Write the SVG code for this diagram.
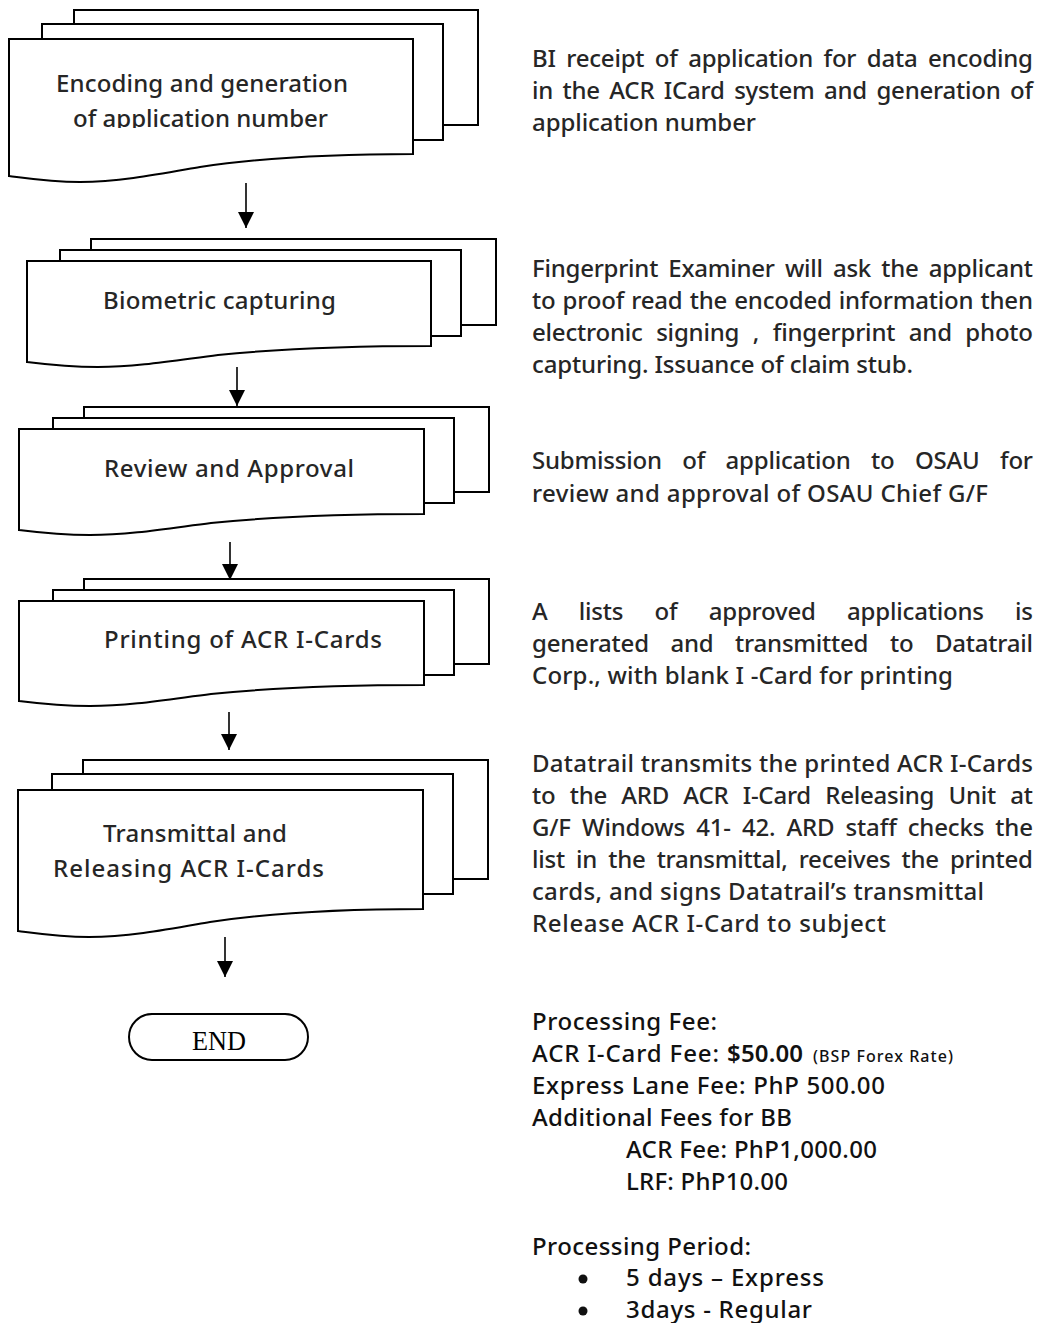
<svg xmlns="http://www.w3.org/2000/svg" width="1051" height="1323" viewBox="0 0 1051 1323">
<style>
.pg{fill:#fff;stroke:#000;stroke-width:2}
.lbl{font-family:"Noto Sans","Liberation Sans",sans-serif;font-size:24px;font-weight:500;fill:#262626}
.desc{font-family:"Noto Sans","Liberation Sans",sans-serif;font-size:24px;font-weight:500;fill:#262626}
.fee{font-family:"Noto Sans","Liberation Sans",sans-serif;font-size:24px;font-weight:500;fill:#111}
.conn{stroke:#000;stroke-width:1.6;fill:none}
.endtxt{font-family:"Liberation Serif","DejaVu Serif",serif;font-size:27px;fill:#000}
</style>
<defs>
<marker id="ah" markerUnits="userSpaceOnUse" markerWidth="16" markerHeight="16" refX="16" refY="8" orient="auto">
<path d="M0,0 L16,8 L0,16 z" fill="#000"/>
</marker>
<clipPath id="clip1"><rect x="40" y="50" width="360" height="78"/></clipPath>
</defs>
<rect width="1051" height="1323" fill="#fff"/>

<g id="node-encoding">
<rect class="pg" x="74" y="10" width="404" height="115"/>
<rect class="pg" x="42" y="24" width="401" height="116"/>
<path class="pg" d="M9,39 H413 V154 c-83,0 -153,4 -213,13 c-40,7 -80,15 -120,15 c-30,0 -55,-4 -71,-6 Z"/>
<g clip-path="url(#clip1)">
<text class="lbl" x="56" y="92" textLength="292" lengthAdjust="spacing">Encoding and generation</text>
<text class="lbl" x="73" y="127" textLength="255" lengthAdjust="spacing">of application number</text>
</g>
</g>

<g id="node-biometric">
<rect class="pg" x="91" y="239" width="405" height="86"/>
<rect class="pg" x="60" y="250" width="401" height="86"/>
<path class="pg" d="M27,261 H431 V346 c-83,0 -153,3 -213,9 c-40,5 -80,12 -120,12 c-30,0 -55,-3 -71,-5 Z"/>
<text class="lbl" x="103" y="309" textLength="233" lengthAdjust="spacing">Biometric capturing</text>
</g>

<g id="node-review">
<rect class="pg" x="84" y="407" width="405" height="85"/>
<rect class="pg" x="53" y="418" width="401" height="85"/>
<path class="pg" d="M19,429 H424 V514 c-83,0 -153,3 -213,9 c-40,5 -80,12 -121,12 c-30,0 -55,-3 -71,-5 Z"/>
<text class="lbl" x="104" y="477" textLength="250" lengthAdjust="spacing">Review and Approval</text>
</g>

<g id="node-printing">
<rect class="pg" x="84" y="579" width="405" height="85"/>
<rect class="pg" x="53" y="590" width="401" height="85"/>
<path class="pg" d="M19,601 H424 V685 c-83,0 -153,3 -213,9 c-40,5 -80,12 -121,12 c-30,0 -55,-3 -71,-5 Z"/>
<text class="lbl" x="104" y="648" textLength="278" lengthAdjust="spacing">Printing of ACR I-Cards</text>
</g>

<g id="node-transmittal">
<rect class="pg" x="83" y="760" width="405" height="119"/>
<rect class="pg" x="52" y="774" width="401" height="120"/>
<path class="pg" d="M18,790 H423 V909 c-83,0 -153,4 -213,13 c-40,7 -80,15 -121,15 c-30,0 -55,-4 -71,-6 Z"/>
<text class="lbl" x="103" y="842" textLength="184" lengthAdjust="spacing">Transmittal and</text>
<text class="lbl" x="53" y="877" textLength="271" lengthAdjust="spacing">Releasing ACR I-Cards</text>
</g>

<g id="node-end">
<rect x="129" y="1014" width="179" height="46" rx="23" ry="23" fill="#fff" stroke="#000" stroke-width="2"/>
<text class="endtxt" x="192" y="1050" textLength="54" lengthAdjust="spacingAndGlyphs">END</text>
</g>

<g id="connectors">
<line class="conn" x1="246" y1="183" x2="246" y2="228" marker-end="url(#ah)"/>
<line class="conn" x1="237" y1="367" x2="237" y2="406" marker-end="url(#ah)"/>
<line class="conn" x1="230" y1="542" x2="230" y2="580" marker-end="url(#ah)"/>
<line class="conn" x1="229" y1="712" x2="229" y2="750" marker-end="url(#ah)"/>
<line class="conn" x1="225" y1="937" x2="225" y2="977" marker-end="url(#ah)"/>
</g>

<g id="desc-encoding" class="desc">
<text x="532" y="67" word-spacing="4.6" textLength="501" lengthAdjust="spacing">BI receipt of application for data encoding</text>
<text x="532" y="99" word-spacing="3.4" textLength="501" lengthAdjust="spacing">in the ACR ICard system and generation of</text>
<text x="532" y="131" textLength="224" lengthAdjust="spacing">application number</text>
</g>

<g id="desc-biometric" class="desc">
<text x="532" y="277" word-spacing="4.2" textLength="501" lengthAdjust="spacing">Fingerprint Examiner will ask the applicant</text>
<text x="532" y="309" word-spacing="1.1" textLength="501" lengthAdjust="spacing">to proof read the encoded information then</text>
<text x="532" y="341" word-spacing="7.5" textLength="501" lengthAdjust="spacing">electronic signing , fingerprint and photo</text>
<text x="532" y="373" textLength="381" lengthAdjust="spacing">capturing. Issuance of claim stub.</text>
</g>

<g id="desc-review" class="desc">
<text x="532" y="469" word-spacing="14.4" textLength="501" lengthAdjust="spacing">Submission of application to OSAU for</text>
<text x="532" y="502" textLength="456" lengthAdjust="spacing">review and approval of OSAU Chief G/F</text>
</g>

<g id="desc-printing" class="desc">
<text x="532" y="620" word-spacing="25.2" textLength="501" lengthAdjust="spacing">A lists of approved applications is</text>
<text x="532" y="652" word-spacing="15.6" textLength="501" lengthAdjust="spacing">generated and transmitted to Datatrail</text>
<text x="532" y="684" textLength="421" lengthAdjust="spacing">Corp., with blank I -Card for printing</text>
</g>

<g id="desc-transmittal" class="desc">
<text x="532" y="772" textLength="501" lengthAdjust="spacing">Datatrail transmits the printed ACR I-Cards</text>
<text x="532" y="804" word-spacing="8.3" textLength="501" lengthAdjust="spacing">to the ARD ACR I-Card Releasing Unit at</text>
<text x="532" y="836" word-spacing="5.1" textLength="501" lengthAdjust="spacing">G/F Windows 41- 42. ARD staff checks the</text>
<text x="532" y="868" word-spacing="5.1" textLength="501" lengthAdjust="spacing">list in the transmittal, receives the printed</text>
<text x="532" y="900" textLength="452" lengthAdjust="spacing">cards, and signs Datatrail’s transmittal</text>
<text x="532" y="932" textLength="354" lengthAdjust="spacing">Release ACR I-Card to subject</text>
</g>

<g id="fees" class="fee">
<text x="532" y="1030" textLength="185" lengthAdjust="spacing">Processing Fee:</text>
<text x="532" y="1062" textLength="187" lengthAdjust="spacing">ACR I-Card Fee:</text>
<text x="727" y="1062" textLength="76" lengthAdjust="spacing" font-weight="600">$50.00</text>
<text x="813" y="1062" font-size="16" textLength="140" lengthAdjust="spacing">(BSP Forex Rate)</text>
<text x="532" y="1094" textLength="353" lengthAdjust="spacing">Express Lane Fee: PhP 500.00</text>
<text x="532" y="1126" textLength="260" lengthAdjust="spacing">Additional Fees for BB</text>
<text x="626" y="1158" textLength="251" lengthAdjust="spacing">ACR Fee: PhP1,000.00</text>
<text x="626" y="1190" textLength="162" lengthAdjust="spacing">LRF: PhP10.00</text>
<text x="532" y="1255" textLength="219" lengthAdjust="spacing">Processing Period:</text>
<circle cx="583" cy="1279" r="4.5" fill="#111"/>
<text x="626" y="1286" textLength="198" lengthAdjust="spacing">5 days – Express</text>
<circle cx="583" cy="1311" r="4.5" fill="#111"/>
<text x="626" y="1318" textLength="186" lengthAdjust="spacing">3days - Regular</text>
</g>
</svg>
